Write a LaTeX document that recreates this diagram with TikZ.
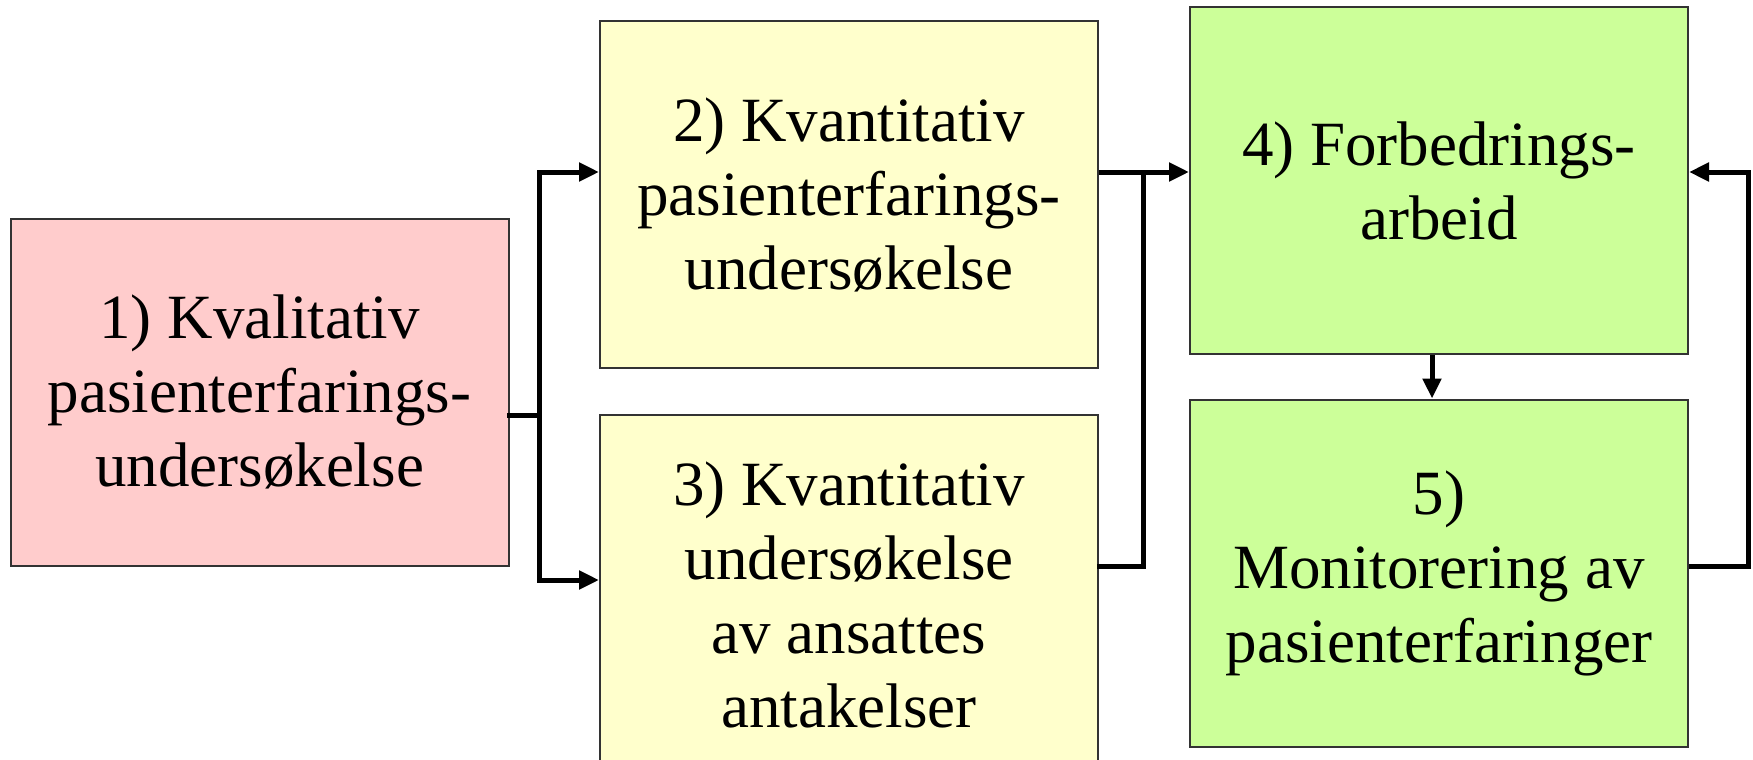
\documentclass[tikz,border=0pt]{standalone}
\usepackage{fontspec}
\setmainfont{Liberation Serif}
\usetikzlibrary{arrows.meta}

\definecolor{pinkfill}{HTML}{FFCCCC}
\definecolor{yellowfill}{HTML}{FFFFCC}
\definecolor{greenfill}{HTML}{CCFF99}

\tikzset{
  stagebox/.style={draw=black!80, line width=2pt, minimum width=498pt,
    minimum height=347pt, align=center, inner sep=0pt,
    font=\fontsize{63}{74}\selectfont},
  flowline/.style={line width=5pt, black, line cap=rect, line join=miter},
  flowarrow/.style={flowline, line cap=butt, -{Triangle[length=20pt,width=18pt]}},
}

\begin{document}
\begin{tikzpicture}[x=1pt, y=-1pt]
  \path[use as bounding box, clip] (0,0) rectangle (1753,760);

  % stages
  \node[stagebox, fill=pinkfill]   (b1) at (259.5,392)
    {1) Kvalitativ\\pasienterfarings-\\undersøkelse};
  \node[stagebox, fill=yellowfill] (b2) at (849,194.5)
    {2) Kvantitativ\\pasienterfarings-\\undersøkelse};
  \node[stagebox, fill=yellowfill, minimum height=360pt] (b3) at (849,595)
    {3) Kvantitativ\\undersøkelse\\av ansattes\\antakelser};
  \node[stagebox, fill=greenfill]  (b4) at (1439,180.5)
    {4) Forbedrings-\\arbeid};
  \node[stagebox, fill=greenfill]  (b5) at (1439,573)
    {5)\\Monitorering av\\pasienterfaringer};

  % branch and join points
  \coordinate (j1)  at (539,415);
  \coordinate (j1t) at (539,172);
  \coordinate (j1b) at (539,580);
  \coordinate (j2)  at (1143,172);
  \coordinate (j3)  at (1143,566);
  \coordinate (j4)  at (1432,0);
  \coordinate (j5)  at (1748,566);
  \coordinate (j6)  at (1748,172);

  % connectors
  \draw[flowline]  (b1.east |- j1) -- (j1);
  \draw[flowarrow] (j1) |- (j1t -| b2.west);
  \draw[flowarrow] (j1) |- (j1b -| b3.west);
  \draw[flowarrow] (b2.east |- j2) -- (j2 -| b4.west);
  \draw[flowline]  (b3.east |- j3) -| (j2);
  \draw[flowarrow] (b4.south -| j4) -- (b5.north -| j4);
  \draw[flowarrow] (b5.east |- j5) -- (j5) -- (j6) -- (j6 -| b4.east);
\end{tikzpicture}
\end{document}
